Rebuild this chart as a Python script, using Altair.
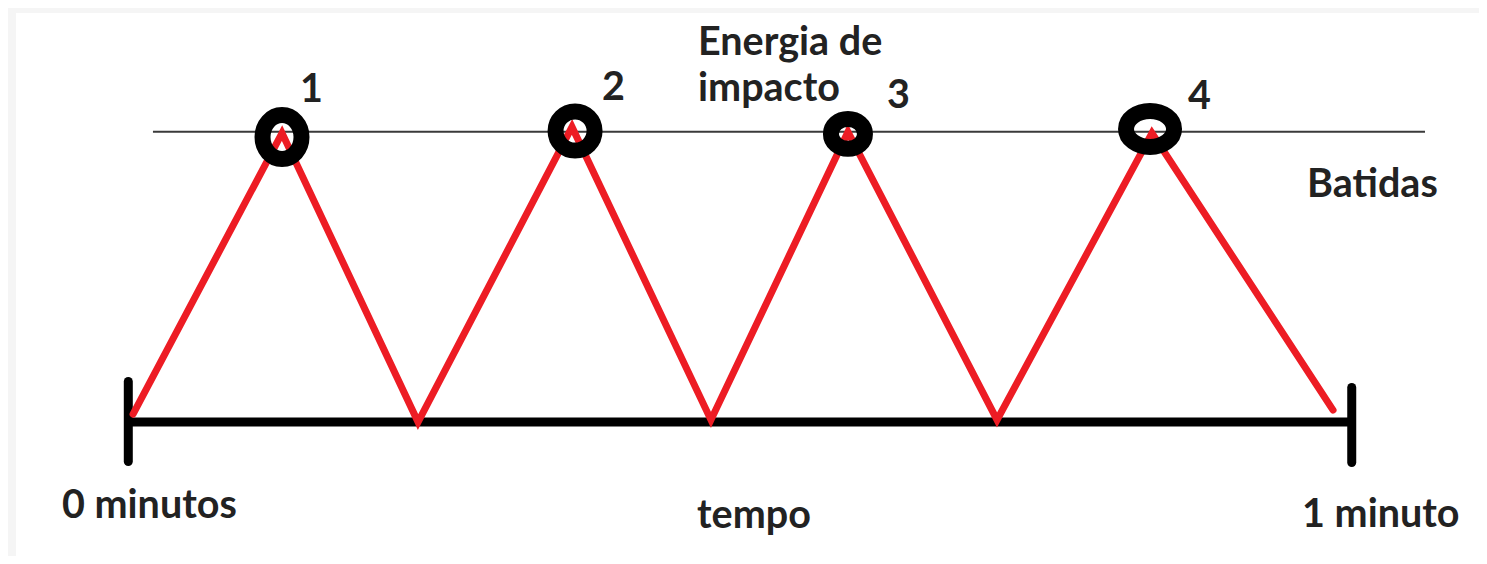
import altair as alt
import pandas as pd

# ---- data (tempo in minutos, energia relativa) ----
zig_t = [0.0025, 0.1245, 0.2359, 0.3620, 0.4758, 0.5880, 0.7101, 0.8370, 0.9853]
zig_e = [0.027, 0.993, 0.000, 1.014, 0.007, 0.997, 0.007, 0.993, 0.041]

ring_labels = ["1", "2", "3", "4"]
ring_t = [0.1245, 0.3645, 0.5880, 0.8354]
ring_e = [0.979, 1.000, 0.990, 1.007]

# label anchors (t, e)
label_text = ["1", "2", "3", "4", "Energia de", "impacto", "Batidas",
              "0 minutos", "tempo", "1 minuto"]
label_t = [0.1392, 0.3866, 0.6200, 0.8665, 0.4652, 0.4652, 0.9640,
           -0.0557, 0.4644, 0.9599]
label_e = [1.0997, 1.1065, 1.079, 1.0756, 1.261, 1.103, 0.773,
           -0.330, -0.364, -0.361]

# reference lines
base_t = [0.0, 1.0]
base_e = 0.0
top_t = [0.0188, 1.0606]
top_e = 0.9976
tick_t = [-0.0014, 1.0006]
tick_e0 = [0.139, 0.1186]
tick_e1 = [-0.136, -0.139]

# ---- scales ----
W, H = 1463, 543
XS = alt.Scale(domain=[-0.09337, 1.10483], nice=False, zero=False)
YS = alt.Scale(domain=[-0.46048, 1.40550], nice=False, zero=False)


def X(f):
    return alt.X(f, type="quantitative", scale=XS, axis=None)


def Y(f):
    return alt.Y(f, type="quantitative", scale=YS, axis=None)


zig_df = pd.DataFrame({"t": zig_t, "e": zig_e, "i": list(range(len(zig_t)))})
lab_df = pd.DataFrame({"label": label_text, "t": label_t, "e": label_e})
base_df = pd.DataFrame({"t0": [base_t[0]], "t1": [base_t[1]], "e": [base_e]})
top_df = pd.DataFrame({"t0": [top_t[0]], "t1": [top_t[1]], "e": [top_e]})
tick_df = pd.DataFrame({"t": tick_t, "e0": tick_e0, "e1": tick_e1})

top_line = alt.Chart(top_df).mark_rule(color="#3a3a3a", strokeWidth=2).encode(
    x=X("t0"), x2="t1", y=Y("e"))

base_line = alt.Chart(base_df).mark_rule(color="black", strokeWidth=9).encode(
    x=X("t0"), x2="t1", y=Y("e"))

ticks = alt.Chart(tick_df).mark_rule(color="black", strokeWidth=9, strokeCap="round").encode(
    x=X("t"), y=Y("e0"), y2="e1")

zig = alt.Chart(zig_df).mark_line(color="#ed1c24", strokeWidth=7, strokeCap="round",
                                  strokeJoin="miter").encode(
    x=X("t"), y=Y("e"), order="i:Q")


def ellipse(rx, ry):
    return (f"M {-rx} 0 A {rx} {ry} 0 1 0 {rx} 0 "
            f"A {rx} {ry} 0 1 0 {-rx} 0 Z")


ring_styles = [
    (ellipse(0.886, 1.0), 1936),
    ("circle", 1521),
    (ellipse(1.0, 0.88), 1156),
    (ellipse(1.0, 0.75), 2304),
]

rings = []
for lab, t, e, (shape, size) in zip(ring_labels, ring_t, ring_e, ring_styles):
    df = pd.DataFrame({"t": [t], "e": [e], "label": [lab]})
    rings.append(
        alt.Chart(df).mark_point(shape=shape, size=size, filled=False,
                                 stroke="black", strokeWidth=16, opacity=1).encode(
            x=X("t"), y=Y("e")))

labels = alt.Chart(lab_df).mark_text(
    align="left", baseline="alphabetic", font="Lato", fontWeight="bold",
    fontSize=39.5, color="#222222").encode(x=X("t"), y=Y("e"), text="label:N")

chart = alt.layer(top_line, base_line, ticks, zig, *rings, labels).properties(
    width=W, height=H,
    autosize=alt.AutoSizeParams(type="none"),
    padding={"left": 8, "top": 5, "right": 0, "bottom": 0},
    background="#f5f5f5",
).configure_view(fill="white", strokeWidth=0)

chart.save("out.html", embed_options={"renderer": "svg", "actions": False})
